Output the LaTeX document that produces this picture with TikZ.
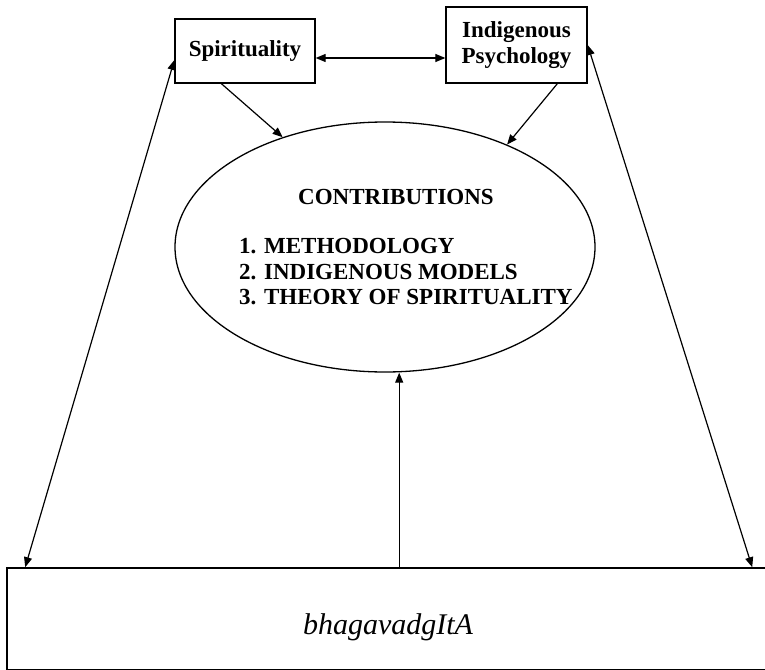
\documentclass[tikz,border=0pt]{standalone}
\usepackage{fontspec}
\setmainfont{Liberation Serif}
\usetikzlibrary{arrows.meta,shapes.geometric,calc}
\begin{document}
\begin{tikzpicture}[x=1pt,y=-1pt,
  box/.style={draw,line width=1.3pt,inner sep=0pt,align=center,
    font=\fontsize{23}{26}\selectfont\bfseries},
  tip/.tip={Triangle[length=10pt,width=8pt]},
  arr/.style={line width=1.2pt,-tip},
  biarr/.style={line width=1.2pt,tip-tip},
  lbl/.style={inner sep=0pt,font=\fontsize{23}{25.5}\selectfont\bfseries}]
\useasboundingbox (0,0) rectangle (765,669);

% top boxes
\node[box,minimum width=140pt,minimum height=64pt] (sp) at (245,51) {Spirituality};
\node[box,minimum width=141pt,minimum height=76pt] (ind) at (516.5,45) {Indigenous\\Psychology};

% central ellipse with its text
\node[draw,ellipse,line width=1.3pt,inner sep=0pt,minimum width=420pt,minimum height=250pt] (ell) at (385,247) {};
\node[lbl] (ctitle) at (396,197) {CONTRIBUTIONS};
\node[lbl,anchor=west,align=left] (citems) at (239,272)
  {1. METHODOLOGY\\2. INDIGENOUS MODELS\\3. THEORY OF SPIRITUALITY};

% base box (its lower and right edges run off the page)
\node[draw,line width=1.6pt,inner sep=0pt,minimum width=762pt,minimum height=101.6pt] (bg) at (388,618.8) {};
\node[inner sep=0pt,font=\fontsize{30}{30}\selectfont\itshape] (bgt) at (388,627) {bhagavadgItA};

% connectors
\draw[biarr] ($(sp.east)+(0,7)$) coordinate (m) -- (m -| ind.west);
\draw[arr] ($(sp.south west)+(47,0)$) -- (ell.133);
\draw[arr] ($(ind.south west)+(112,0)$) -- (ell.40);
\coordinate (vb) at ($(bg.north west)+(393,0)$);
\draw[arr] (vb) -- (vb |- ell.south);
\draw[biarr] ($(bg.north west)+(19,0)$) -- ($(sp.west)+(0,9)$);
\draw[biarr] ($(bg.north west)+(746,0)$) -- (ind.east);
\end{tikzpicture}
\end{document}
